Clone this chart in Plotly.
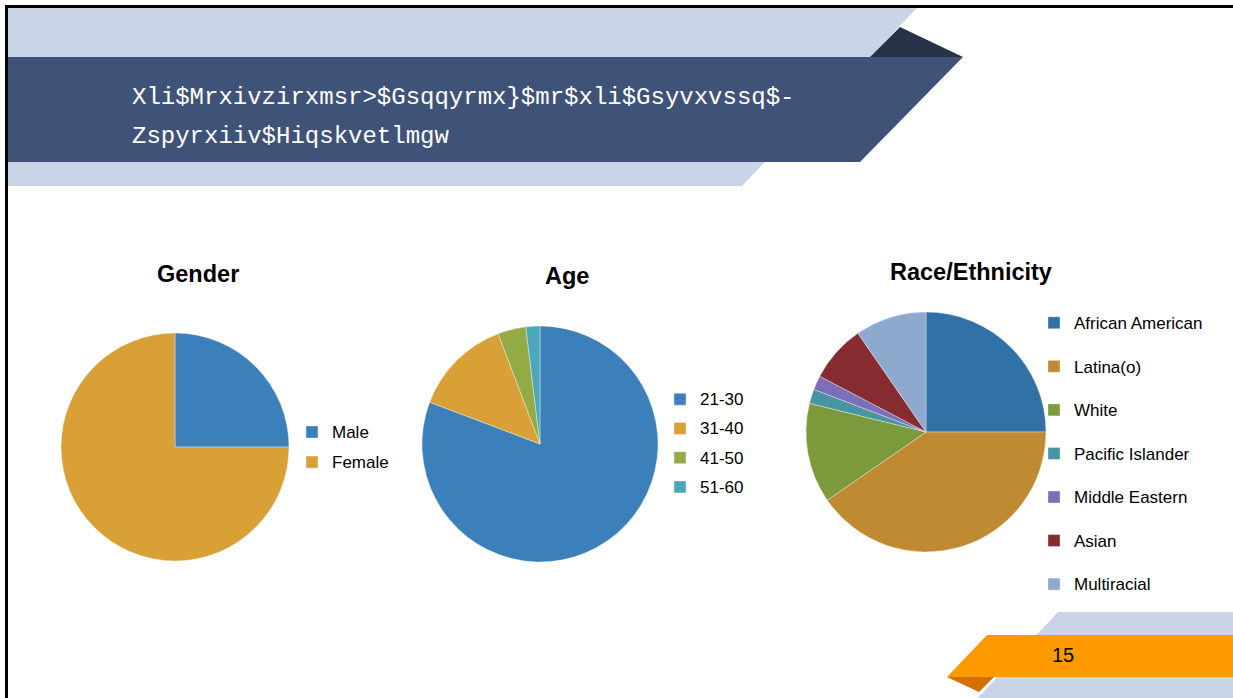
import plotly.graph_objects as go

W, H = 1233, 698

# ---------------- data ----------------
gender_labels = ["Male", "Female"]
gender_values = [13, 39]
gender_colors = ["#3B80BB", "#D9A038"]

age_labels = ["21-30", "31-40", "41-50", "51-60"]
age_values = [42, 7, 2, 1]
age_colors = ["#3B80BB", "#D9A038", "#93AA45", "#4DA7BA"]

race_labels = ["African American", "Latina(o)", "White", "Pacific Islander",
               "Middle Eastern", "Asian", "Multiracial"]
race_values = [13, 21, 7, 1, 1, 4, 5]
race_colors = ["#3171A6", "#C08A33", "#7A9A3B", "#4795A0", "#7C6EB8", "#862B2F", "#8DA9CD"]

chart_titles = ["Gender", "Age", "Race/Ethnicity"]
slide_title = ["Xli$Mrxivzirxmsr>$Gsqqyrmx}$mr$xli$Gsyvxvssq$-", "Zspyrxiiv$Hiqskvetlmgw"]
page_number = "15"


def px(x):
    return x / W


def py(y):
    return 1 - y / H


def lab(items, shift):
    return [f"<span style='font-size:17px;baseline-shift:{shift}px'>{t}</span>" for t in items]


fig = go.Figure()

common = dict(sort=False, direction="clockwise", rotation=0, textinfo="none",
              hoverinfo="skip", marker_line=dict(color="rgba(255,255,255,0.6)", width=0.6))

fig.add_trace(go.Pie(labels=lab(gender_labels, 2), values=gender_values,
                     marker_colors=gender_colors, legend="legend",
                     domain=dict(x=[px(61), px(289)], y=[py(561), py(333)]), **common))
fig.add_trace(go.Pie(labels=lab(age_labels, 2), values=age_values,
                     marker_colors=age_colors, legend="legend2",
                     domain=dict(x=[px(422), px(658)], y=[py(562), py(326)]), **common))
fig.add_trace(go.Pie(labels=lab(race_labels, 6), values=race_values,
                     marker_colors=race_colors, legend="legend3",
                     domain=dict(x=[px(806), px(1046)], y=[py(552), py(312)]), **common))


def poly(pts, color):
    d = "M " + " L ".join(f"{px(x):.5f},{py(y):.5f}" for x, y in pts) + " Z"
    return dict(type="path", xref="paper", yref="paper", path=d,
                fillcolor=color, line=dict(width=0), layer="below")


shapes = [
    poly([(8, 8), (917, 8), (870, 57), (8, 57)], "#C9D5E7"),
    poly([(8, 162), (765, 162), (742, 186), (8, 186)], "#C9D5E7"),
    poly([(900, 27), (870, 57), (963, 57)], "#273349"),
    poly([(8, 57), (963, 57), (860, 162), (8, 162)], "#3F5378"),
    poly([(1058, 612), (1240, 612), (1240, 702), (974, 702)], "#C9D5E7"),
    poly([(987, 635), (1240, 635), (1240, 677), (947, 677)], "#FF9900"),
    poly([(947, 677), (994, 677), (979, 692)], "#D46F00"),
    dict(type="rect", xref="paper", yref="paper", x0=px(6.5), x1=px(1245), y0=py(712), y1=py(6.5),
         line=dict(color="black", width=3), fillcolor="rgba(0,0,0,0)", layer="above"),
]

annotations = []
for t, y in zip(slide_title, [97, 137]):
    annotations.append(dict(text=t, x=px(130), y=py(y), xref="paper", yref="paper",
                            xanchor="left", yanchor="middle", showarrow=False,
                            font=dict(family="Liberation Mono", size=24, color="white")))
for t, (x, y) in zip(chart_titles, [(198, 274), (567, 276), (971, 272)]):
    annotations.append(dict(text=f"<b>{t}</b>", x=px(x), y=py(y), xref="paper", yref="paper",
                            xanchor="center", yanchor="middle", showarrow=False,
                            font=dict(family="Liberation Sans, Arial", size=23.5, color="black")))
annotations.append(dict(text=page_number, x=px(1063), y=py(655), xref="paper", yref="paper",
                        xanchor="center", yanchor="middle", showarrow=False,
                        font=dict(family="Liberation Sans, Arial", size=20, color="black")))

leg_common = dict(xanchor="left", yanchor="top", bgcolor="rgba(0,0,0,0)", borderwidth=0)
fig.update_layout(
    width=W, height=H, margin=dict(l=0, r=0, t=0, b=0),
    paper_bgcolor="white", plot_bgcolor="white",
    shapes=shapes, annotations=annotations,
    legend=dict(x=px(292), y=py(412), font=dict(family="Liberation Sans, Arial", size=20.8, color="black"), **leg_common),
    legend2=dict(x=px(660), y=py(379.5), font=dict(family="Liberation Sans, Arial", size=20.2, color="black"), **leg_common),
    legend3=dict(x=px(1034), y=py(296), font=dict(family="Liberation Sans, Arial", size=31.2, color="black"), **leg_common),
)

fig.write_html("out.html", config={"displayModeBar": False},
               post_script="document.body.style.margin='0';")
